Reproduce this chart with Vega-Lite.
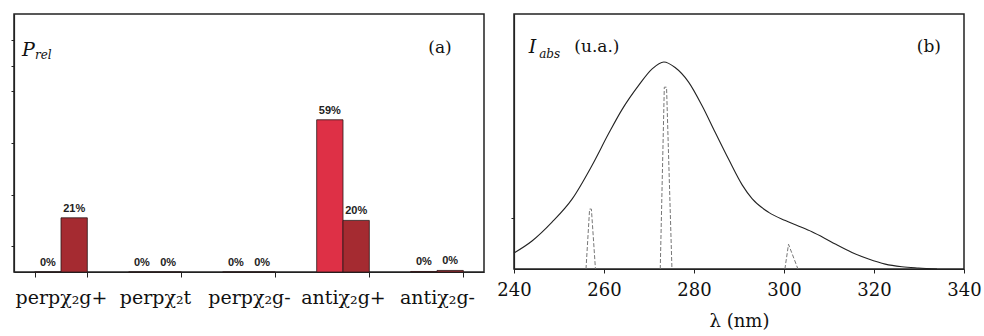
{
  "$schema": "https://vega.github.io/schema/vega-lite/v6.json",
  "padding": {"left": 9, "top": 13, "right": 4, "bottom": 0},
  "spacing": 11,
  "background": "white",
  "config": {
    "view": {"stroke": "#222", "strokeWidth": 1.5},
    "font": "DejaVu Serif",
    "axis": {"domainColor": "#222", "tickColor": "#222", "labelColor": "#111", "titleColor": "#111", "grid": false, "domainWidth": 1.2}
  },
  "hconcat": [
    {
      "width": 470,
      "height": 258,
      "data": {"values": [
        {"cat": "perpχ₂g+", "s": "A", "v": 0, "label": "0%"},
        {"cat": "perpχ₂g+", "s": "B", "v": 21, "label": "21%"},
        {"cat": "perpχ₂t", "s": "A", "v": 0, "label": "0%"},
        {"cat": "perpχ₂t", "s": "B", "v": 0, "label": "0%"},
        {"cat": "perpχ₂g-", "s": "A", "v": 0, "label": "0%"},
        {"cat": "perpχ₂g-", "s": "B", "v": 0, "label": "0%"},
        {"cat": "antiχ₂g+", "s": "A", "v": 59, "label": "59%"},
        {"cat": "antiχ₂g+", "s": "B", "v": 20, "label": "20%"},
        {"cat": "antiχ₂g-", "s": "A", "v": 0.2, "label": "0%"},
        {"cat": "antiχ₂g-", "s": "B", "v": 0.6, "label": "0%"}
      ]},
      "encoding": {
        "x": {"field": "cat", "type": "nominal", "sort": null,
              "scale": {"paddingInner": 0.44, "paddingOuter": 0.22},
              "axis": {"title": null, "labelAngle": 0, "tickBand": "extent", "tickSize": 5, "labelPadding": 11, "labelFontSize": 19, "labelFont": "DejaVu Serif"}},
        "y": {"field": "v", "type": "quantitative", "scale": {"domain": [0, 100]},
              "axis": {"title": null, "labels": false, "values": [10, 30, 50, 70, 80, 90], "tickSize": 3}}
      },
      "layer": [
        {
          "mark": {"type": "bar", "stroke": "#2a1a1a", "strokeWidth": 0.8},
          "encoding": {
            "xOffset": {"field": "s", "type": "nominal"},
            "color": {"field": "s", "type": "nominal", "scale": {"domain": ["A", "B"], "range": ["#de3046", "#a52b31"]}, "legend": null}
          }
        },
        {
          "mark": {"type": "text", "font": "Liberation Sans", "fontWeight": "bold", "fontSize": 11, "dy": -9, "color": "#222"},
          "encoding": {
            "xOffset": {"field": "s", "type": "nominal"},
            "text": {"field": "label"}
          }
        },
        {
          "data": {"values": [{"cat": "perpχ₂g+", "v": 86, "t": "P"}]},
          "mark": {"type": "text", "font": "DejaVu Serif", "fontStyle": "italic", "fontSize": 19, "align": "left", "dx": -39, "color": "#111"},
          "encoding": {"text": {"field": "t"}}
        },
        {
          "data": {"values": [{"cat": "perpχ₂g+", "v": 84, "t": "rel"}]},
          "mark": {"type": "text", "font": "DejaVu Serif", "fontStyle": "italic", "fontSize": 12, "align": "left", "dx": -26, "color": "#111"},
          "encoding": {"text": {"field": "t"}}
        },
        {
          "data": {"values": [{"cat": "antiχ₂g-", "v": 87, "t": "(a)"}]},
          "mark": {"type": "text", "font": "DejaVu Serif", "fontSize": 17, "align": "center", "dx": 3, "color": "#111"},
          "encoding": {"text": {"field": "t"}}
        }
      ]
    },
    {
      "width": 450,
      "height": 255,
      "data": {"values": [
        {"nm": 240, "I": 0.063, "s": "abs"},
        {"nm": 244, "I": 0.11, "s": "abs"},
        {"nm": 248.4, "I": 0.183, "s": "abs"},
        {"nm": 252.9, "I": 0.274, "s": "abs"},
        {"nm": 257.3, "I": 0.405, "s": "abs"},
        {"nm": 261, "I": 0.53, "s": "abs"},
        {"nm": 264, "I": 0.625, "s": "abs"},
        {"nm": 267.7, "I": 0.72, "s": "abs"},
        {"nm": 270.7, "I": 0.785, "s": "abs"},
        {"nm": 273.3, "I": 0.812, "s": "abs"},
        {"nm": 275.8, "I": 0.79, "s": "abs"},
        {"nm": 278.8, "I": 0.733, "s": "abs"},
        {"nm": 281.8, "I": 0.64, "s": "abs"},
        {"nm": 284.7, "I": 0.536, "s": "abs"},
        {"nm": 287.7, "I": 0.43, "s": "abs"},
        {"nm": 290.7, "I": 0.33, "s": "abs"},
        {"nm": 292.9, "I": 0.276, "s": "abs"},
        {"nm": 296.6, "I": 0.222, "s": "abs"},
        {"nm": 300.3, "I": 0.19, "s": "abs"},
        {"nm": 303.3, "I": 0.168, "s": "abs"},
        {"nm": 306.2, "I": 0.146, "s": "abs"},
        {"nm": 309, "I": 0.121, "s": "abs"},
        {"nm": 311.4, "I": 0.098, "s": "abs"},
        {"nm": 315.1, "I": 0.065, "s": "abs"},
        {"nm": 318.8, "I": 0.039, "s": "abs"},
        {"nm": 322.5, "I": 0.019, "s": "abs"},
        {"nm": 326.2, "I": 0.009, "s": "abs"},
        {"nm": 329.9, "I": 0.004, "s": "abs"},
        {"nm": 334, "I": 0, "s": "abs"},
        {"nm": 256.0, "I": 0, "s": "p1"},
        {"nm": 256.8, "I": 0.235, "s": "p1"},
        {"nm": 257.2, "I": 0.235, "s": "p1"},
        {"nm": 258.1, "I": 0, "s": "p1"},
        {"nm": 272.5, "I": 0, "s": "p2"},
        {"nm": 273.4, "I": 0.713, "s": "p2"},
        {"nm": 273.9, "I": 0.713, "s": "p2"},
        {"nm": 275.1, "I": 0, "s": "p2"},
        {"nm": 300.2, "I": 0, "s": "p3"},
        {"nm": 301.0, "I": 0.097, "s": "p3"},
        {"nm": 303.1, "I": 0, "s": "p3"}
      ]},
      "encoding": {
        "x": {"field": "nm", "type": "quantitative", "scale": {"domain": [240, 340], "nice": false, "zero": false},
              "axis": {"title": "λ (nm)", "values": [240, 260, 280, 300, 320, 340], "tickSize": 4, "labelPadding": 8, "labelFontSize": 18, "labelFont": "DejaVu Serif", "titleFont": "DejaVu Serif", "titleFontSize": 18, "titleFontWeight": "normal", "titlePadding": 13, "labelFlush": false}},
        "y": {"field": "I", "type": "quantitative", "scale": {"domain": [0, 1]},
              "axis": {"title": null, "labels": false, "values": [0.2], "tickSize": 3}}
      },
      "layer": [
        {
          "transform": [{"filter": "datum.s == 'abs'"}],
          "mark": {"type": "line", "color": "#222", "strokeWidth": 1.1, "interpolate": "monotone"},
          "encoding": {}
        },
        {
          "transform": [{"filter": "datum.s != 'abs'"}],
          "mark": {"type": "line", "color": "#777", "strokeWidth": 1, "strokeDash": [4, 2]},
          "encoding": {"detail": {"field": "s"}}
        },
        {
          "data": {"values": [{"nm": 243.3, "I": 0.87, "t": "I"}]},
          "mark": {"type": "text", "font": "DejaVu Serif", "fontStyle": "italic", "fontSize": 19, "align": "left", "color": "#111"},
          "encoding": {"text": {"field": "t"}}
        },
        {
          "data": {"values": [{"nm": 245.6, "I": 0.845, "t": "abs"}]},
          "mark": {"type": "text", "font": "DejaVu Serif", "fontStyle": "italic", "fontSize": 12, "align": "left", "color": "#111"},
          "encoding": {"text": {"field": "t"}}
        },
        {
          "data": {"values": [{"nm": 253.4, "I": 0.87, "t": "(u.a.)"}]},
          "mark": {"type": "text", "font": "DejaVu Serif", "fontSize": 17, "align": "left", "color": "#111"},
          "encoding": {"text": {"field": "t"}}
        },
        {
          "data": {"values": [{"nm": 332.2, "I": 0.87, "t": "(b)"}]},
          "mark": {"type": "text", "font": "DejaVu Serif", "fontSize": 17, "align": "center", "color": "#111"},
          "encoding": {"text": {"field": "t"}}
        }
      ]
    }
  ]
}
